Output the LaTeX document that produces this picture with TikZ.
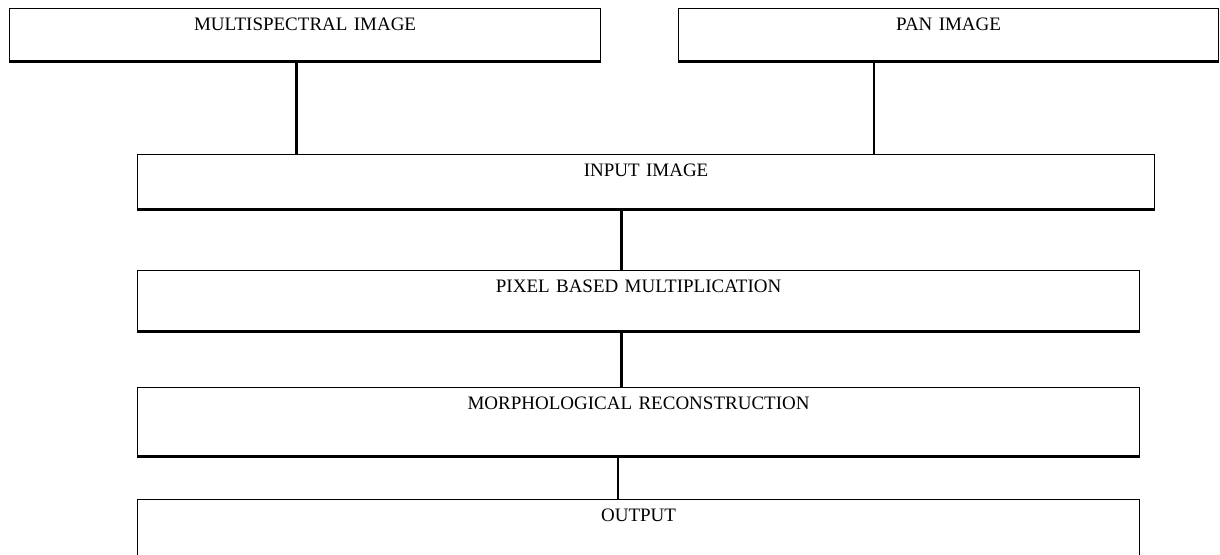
\documentclass[tikz,border=0pt]{standalone}
\usepackage{fontspec}
\setmainfont{Liberation Serif}
\begin{document}
\begin{tikzpicture}[x=1pt,y=-1pt,
  stepbox/.style={draw, line width=1.2pt, rectangle, inner sep=0pt,
    align=center, anchor=north west, text height=21.5pt,
    font=\fontsize{19}{22}\selectfont},
  boxbase/.style={line width=3pt},
  link/.style={line width=3pt},
  thinlink/.style={line width=2.2pt}]
\useasboundingbox (0,0) rectangle (1220,554);
\clip (0,0) rectangle (1220,554);

% process boxes
\node[stepbox, text width=591pt, text depth=30.5pt] (ms)  at (9,8)    {MULTISPECTRAL IMAGE};
\node[stepbox, text width=540pt, text depth=30.5pt] (pan) at (678,8)  {PAN IMAGE};
\node[stepbox, text width=1017pt, text depth=32.5pt] (inp) at (137,154) {INPUT IMAGE};
\node[stepbox, text width=1002pt, text depth=38.5pt] (pix) at (137,270) {PIXEL BASED MULTIPLICATION};
\node[stepbox, text width=1002pt, text depth=46.5pt] (mor) at (137,387) {MORPHOLOGICAL RECONSTRUCTION};
\node[stepbox, text width=1002pt, text depth=80pt]   (out) at (137,499) {OUTPUT};

% heavier lower edges
\foreach \b in {ms,pan,inp,pix,mor,out}
  \draw[boxbase] (\b.south west) -- (\b.south east);

% connector columns
\coordinate (cms)  at (296,0);
\coordinate (cpan) at (874,0);
\coordinate (cmid) at (621,0);
\coordinate (cend) at (618,0);

% connectors
\draw[link]     (ms.south -| cms)   -- (inp.north -| cms);
\draw[thinlink] (pan.south -| cpan) -- (inp.north -| cpan);
\draw[link]     (inp.south -| cmid) -- (pix.north -| cmid);
\draw[link]     (pix.south -| cmid) -- (mor.north -| cmid);
\draw[thinlink] (mor.south -| cend) -- (out.north -| cend);
\end{tikzpicture}
\end{document}
